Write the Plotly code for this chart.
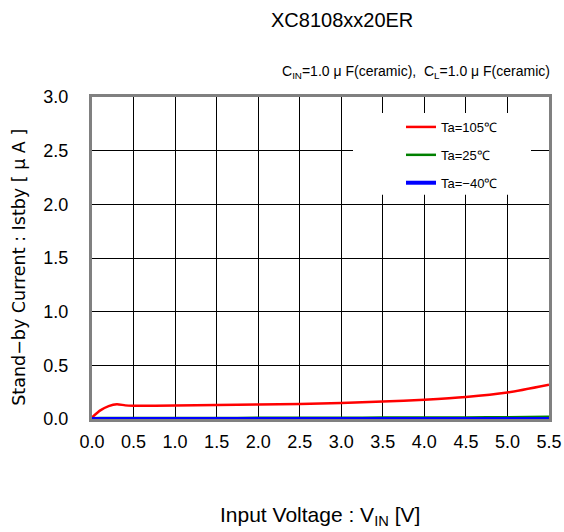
import plotly.graph_objects as go

vin = [0.0, 0.1, 0.2, 0.3, 0.4, 0.5, 1.0, 1.5, 2.0, 2.5, 3.0, 3.5, 4.0, 4.5, 5.0, 5.5]
i_105 = [0.015, 0.08, 0.12, 0.138, 0.127, 0.124, 0.125, 0.13, 0.136, 0.14, 0.15, 0.163, 0.18, 0.205, 0.247, 0.32]
i_25 = [0.008, 0.01, 0.01, 0.01, 0.01, 0.01, 0.01, 0.01, 0.011, 0.011, 0.012, 0.013, 0.014, 0.015, 0.017, 0.02]
i_m40 = [0.0, 0.0, 0.0, 0.0, 0.0, 0.0, 0.0, 0.0, 0.0, 0.0, 0.0, 0.0, 0.0, 0.0, 0.0, 0.001]
names = ["Ta=105℃", "Ta=25℃", "Ta=−40℃"]
colors = ["#ff0000", "#008000", "#0000ff"]
x_ticks = [0.0, 0.5, 1.0, 1.5, 2.0, 2.5, 3.0, 3.5, 4.0, 4.5, 5.0, 5.5]
y_ticks = [0.0, 0.5, 1.0, 1.5, 2.0, 2.5, 3.0]

FONT = "Liberation Sans, Arial, sans-serif"
WIDE = "DejaVu Sans, Liberation Sans, sans-serif"
W, H = 564, 532
L, R, T, B = 92, 549, 97, 419.5
PW, PH = R - L, B - T


def px(x):
    return (x - L) / PW


def py(y):
    return (B - y) / PH


fig = go.Figure()
for i, (ys, nm, c, w) in enumerate(zip([i_105, i_25, i_m40], names, colors, [2.5, 2.5, 4])):
    fig.add_trace(go.Scatter(x=vin, y=ys, mode="lines", name=nm, legendgroup=str(i),
                             line=dict(color=c, width=w, shape="spline", smoothing=0.6),
                             cliponaxis=False))

axis_common = dict(showgrid=True, gridcolor="#000000", gridwidth=1, automargin=False,
                   showline=True, linecolor="#808080", linewidth=3, mirror=True,
                   zeroline=False, ticks="", tickfont=dict(family=FONT, size=18, color="#000000"))
fig.update_xaxes(range=[0, 5.5], tickvals=x_ticks, ticktext=[f"{v:.1f}" for v in x_ticks],
                 ticklabelstandoff=4, **axis_common)
fig.update_yaxes(range=[0, 3.0], tickvals=y_ticks, ticktext=[f"{v:.1f}" for v in y_ticks],
                 ticklabelstandoff=17, **axis_common)

# white legend background covering gridlines
fig.add_shape(type="rect", xref="paper", yref="paper", layer="above",
              x0=px(353), x1=px(531), y0=py(195), y1=py(113),
              fillcolor="white", line=dict(width=0))

fig.update_layout(
    width=W, height=H,
    margin=dict(l=L, r=W - R, t=T, b=H - B),
    paper_bgcolor="white", plot_bgcolor="white",
    showlegend=True,
    legend=dict(x=px(401), y=py(112), xanchor="left", yanchor="top",
                bgcolor="rgba(0,0,0,0)", font=dict(family=FONT, size=13, color="#000000"),
                tracegroupgap=8, traceorder="grouped"),
    annotations=[
        dict(text="XC8108xx20ER", x=px(342), y=py(20), xref="paper", yref="paper",
             xanchor="center", yanchor="middle", showarrow=False,
             font=dict(family=FONT, size=20, color="#000000")),
        dict(text="C<sub>IN</sub>=1.0 μ F(ceramic),  C<sub>L</sub>=1.0 μ F(ceramic)",
             x=px(552), y=py(72), xref="paper", yref="paper",
             xanchor="right", yanchor="middle", showarrow=False,
             font=dict(family=FONT, size=14, color="#000000")),
        dict(text="Stand−by Current : Istby [ μ A ]", textangle=-90,
             x=px(19), y=py(268), xref="paper", yref="paper",
             xanchor="center", yanchor="middle", showarrow=False,
             font=dict(family=WIDE, size=17.5, color="#000000")),
        dict(text="Input Voltage : V<sub>IN</sub> [V]",
             x=px(320), y=py(517), xref="paper", yref="paper",
             xanchor="center", yanchor="middle", showarrow=False,
             font=dict(family=FONT, size=21, color="#000000")),
    ],
)

fig.write_html("out.html", config={"displayModeBar": False},
               post_script="document.body.style.margin='0';document.body.style.overflow='hidden';")
